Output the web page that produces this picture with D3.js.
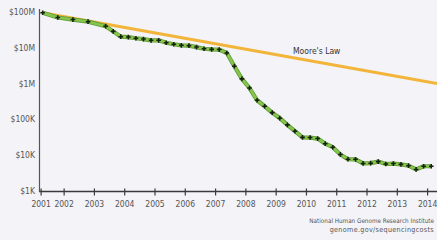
<!DOCTYPE html>
<html>
<head>
<meta charset="utf-8">
<script src="https://cdn.jsdelivr.net/npm/d3@7"></script>
<style>
  html, body { margin: 0; padding: 0; background: #f3f3f8; }
  svg { display: block; }
  text { font-family: "DejaVu Sans Condensed", "DejaVu Sans", sans-serif; }
</style>
</head>
<body>
<div id="chart"></div>
<script>
// Cost per genome (NHGRI), dates as fractional years
const dates = [
  2001.67, 2002.17, 2002.67, 2003.17, 2003.75,
  2004.0, 2004.25, 2004.5, 2004.75,
  2005.0, 2005.25, 2005.5, 2005.75,
  2006.0, 2006.25, 2006.5, 2006.75,
  2007.0, 2007.25, 2007.5, 2007.75,
  2008.0, 2008.25, 2008.5, 2008.75,
  2009.0, 2009.25, 2009.5, 2009.75,
  2010.0, 2010.25, 2010.5, 2010.75,
  2011.0, 2011.25, 2011.5, 2011.75,
  2012.0, 2012.25, 2012.5, 2012.75,
  2013.0, 2013.25, 2013.5, 2013.75,
  2014.0, 2014.25, 2014.5
];
const costs = [
  95263072, 70175437, 61448422, 53751684, 40157554,
  28780376, 20442576, 19934346, 18519312,
  17534970, 16159699, 16180224, 13801124,
  12585659, 11732535, 11455315, 10474556,
  9408739, 9047003, 8927342, 7147571,
  3063820, 1352982, 752080, 342502,
  232735, 154714, 108065, 70333,
  46774, 31512, 31125, 29092,
  20963, 16712, 10497, 7743,
  7666, 5901, 5985, 6618,
  5671, 5826, 5550, 5096,
  4008, 4920, 4905
];
// Moore's Law reference line (end points)
const mooreDates = [2001.67, 2014.69];
const mooreCosts = [95000000, 1000000];

const yTicks = [1e3, 1e4, 1e5, 1e6, 1e7, 1e8];
const yTickLabels = ["$1K", "$10K", "$100K", "$1M", "$10M", "$100M"];
const xYears = [2001, 2002, 2003, 2004, 2005, 2006, 2007, 2008, 2009, 2010, 2011, 2012, 2013, 2014];
const tickOffset = 0.38;   // year labels sit a little after January

const W = 437, H = 240;
const svg = d3.select("#chart").append("svg")
  .attr("width", W).attr("height", H);

const x = d3.scaleLinear().domain([2001.55, 2014.69]).range([39, 437]);
const y = d3.scaleLog().domain([1e3, 1e8]).range([191, 12]);

// axes
const xAxisY = 191.5;
svg.append("line")
  .attr("x1", 39).attr("x2", W)
  .attr("y1", xAxisY).attr("y2", xAxisY)
  .attr("stroke", "#3a3a3a").attr("stroke-width", 1.4);
svg.append("line")
  .attr("x1", 39.5).attr("x2", 39.5)
  .attr("y1", 9).attr("y2", xAxisY)
  .attr("stroke", "#555").attr("stroke-width", 1.2);

const tickPos = yr => yr === 2001 ? x(2001.62) : x(yr + tickOffset);

svg.append("g").selectAll("line")
  .data(xYears).enter().append("line")
  .attr("x1", d => tickPos(d)).attr("x2", d => tickPos(d))
  .attr("y1", xAxisY - 3).attr("y2", xAxisY + 4)
  .attr("stroke", "#3a3a3a").attr("stroke-width", 1.2);

svg.append("g").selectAll("text")
  .data(xYears).enter().append("text")
  .attr("x", d => tickPos(d))
  .attr("y", 207)
  .attr("text-anchor", "middle")
  .attr("font-size", 8.5)
  .attr("fill", "#555")
  .text(d => d);

svg.append("g").selectAll("text")
  .data(yTicks).enter().append("text")
  .attr("x", 35)
  .attr("y", d => y(d) + 3)
  .attr("text-anchor", "end")
  .attr("font-size", 8.5)
  .attr("fill", "#555")
  .text((d, i) => yTickLabels[i]);

// Moore's law
const mooreLine = d3.line().x(d => x(d[0])).y(d => y(d[1]));
svg.append("path")
  .datum(d3.zip(mooreDates, mooreCosts))
  .attr("d", mooreLine)
  .attr("fill", "none")
  .attr("stroke", "#f2b53a")
  .attr("stroke-width", 3);

svg.append("text")
  .attr("x", 293).attr("y", 54)
  .attr("font-size", 8.5)
  .attr("fill", "#333")
  .text("Moore's Law");

// cost per genome
const pts = d3.zip(dates, costs);
const line = d3.line().x(d => x(d[0])).y(d => y(d[1]));
svg.append("path")
  .datum(pts)
  .attr("d", line)
  .attr("fill", "none")
  .attr("stroke", "#5e9a36")
  .attr("stroke-width", 4.2)
  .attr("stroke-linejoin", "round");
svg.append("path")
  .datum(pts)
  .attr("d", line)
  .attr("fill", "none")
  .attr("stroke", "#86c64c")
  .attr("stroke-width", 2.6)
  .attr("stroke-linejoin", "round");

svg.append("g").selectAll("path")
  .data(pts).enter().append("path")
  .attr("transform", d => `translate(${x(d[0])},${y(d[1])})`)
  .attr("d", d3.symbol().type(d3.symbolCross).size(12))
  .attr("fill", "#16200f");

// source
svg.append("text")
  .attr("x", 434).attr("y", 223)
  .attr("text-anchor", "end")
  .attr("font-size", 6.3)
  .attr("fill", "#555")
  .text("National Human Genome Research Institute");
svg.append("text")
  .attr("x", 434).attr("y", 232)
  .attr("text-anchor", "end")
  .attr("font-size", 7.2)
  .attr("letter-spacing", 0.3)
  .attr("fill", "#555")
  .text("genome.gov/sequencingcosts");
</script>
</body>
</html>
